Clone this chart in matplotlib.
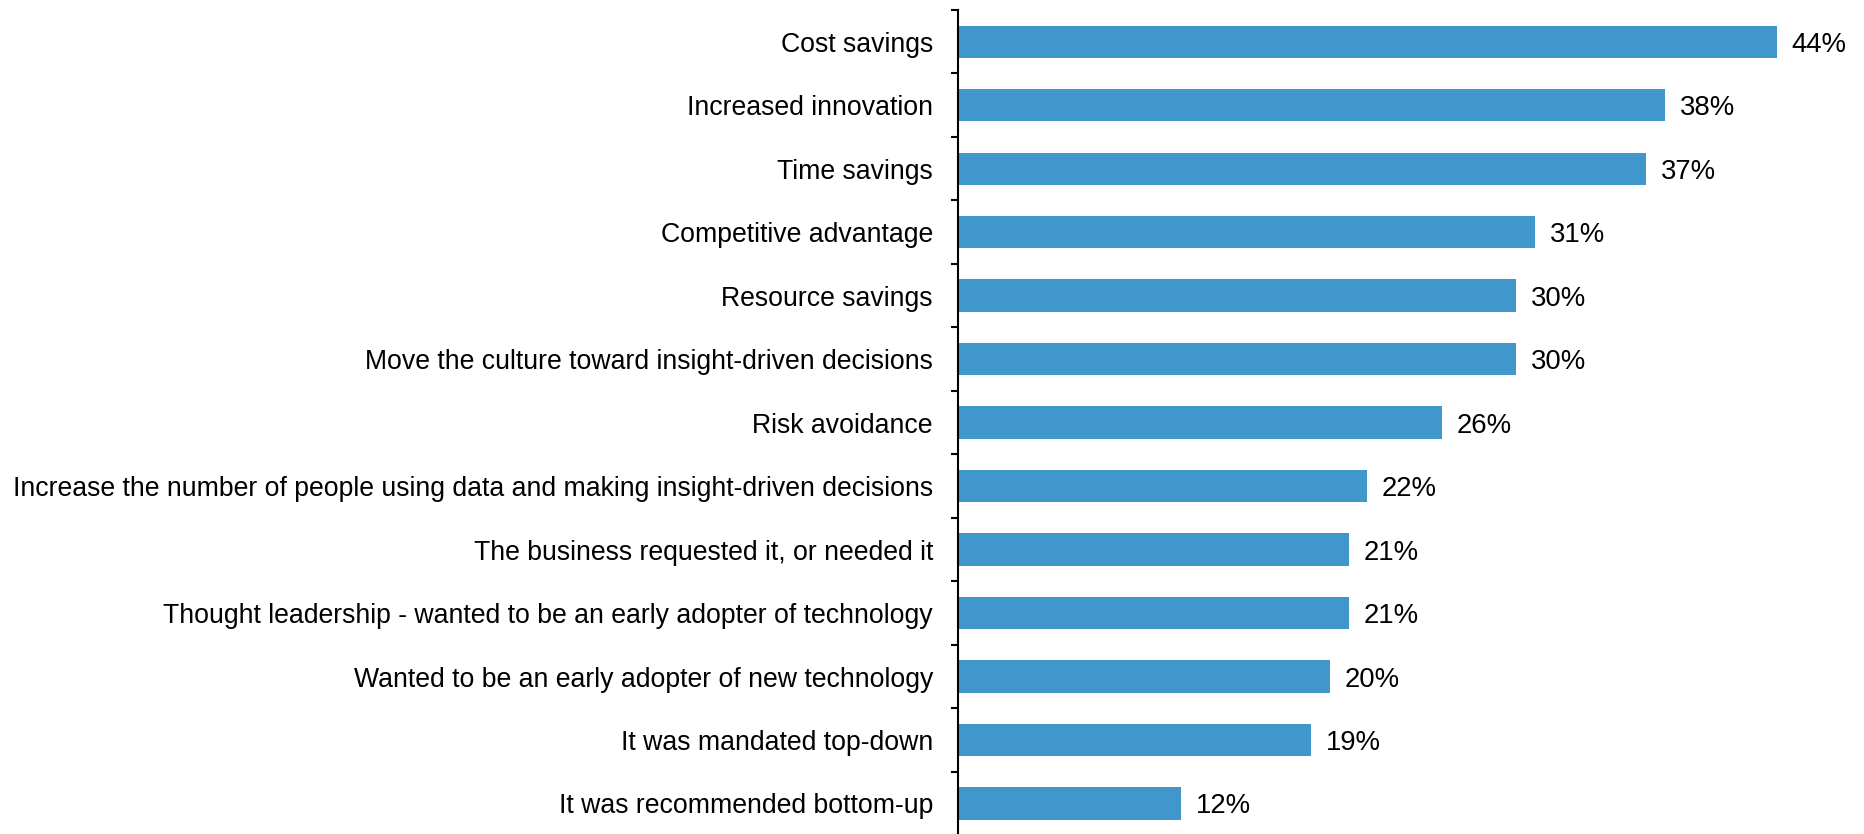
import matplotlib
matplotlib.use("Agg")
import matplotlib.pyplot as plt
import matplotlib.transforms as mtransforms
import numpy as np

categories = [
    "Cost savings",
    "Increased innovation",
    "Time savings",
    "Competitive advantage",
    "Resource savings",
    "Move the culture toward insight-driven decisions",
    "Risk avoidance",
    "Increase the number of people using data and making insight-driven decisions",
    "The business requested it, or needed it",
    "Thought leadership - wanted to be an early adopter of technology",
    "Wanted to be an early adopter of new technology",
    "It was mandated top-down",
    "It was recommended bottom-up",
]
values = [44, 38, 37, 31, 30, 30, 26, 22, 21, 21, 20, 19, 12]
value_labels = ["44%", "38%", "37%", "31%", "30%", "30%", "26%", "22%", "21%", "21%", "20%", "19%", "12%"]

plt.rcParams['font.family'] = ['Liberation Sans', 'DejaVu Sans']

fig = plt.figure(figsize=(18.64, 8.34), dpi=100)
ax = fig.add_axes([957.7 / 1864, 1 - 835.2 / 834, 1 - 957.7 / 1864, (835.2 - 10) / 834])

y = np.arange(len(categories))
ax.barh(y, values, height=0.51, color="#4197CB")
trans = mtransforms.offset_copy(ax.transData, fig=fig, x=0, y=-10, units="dots")
for yi, v, lab in zip(y, values, value_labels):
    ax.text(v + 0.8, yi, lab, va="baseline", ha="left", fontsize=19.8,
            color="black", transform=trans)

ax.set_ylim(len(categories) - 0.5, -0.5)
ax.set_xlim(0, 906.3 / 18.61)
ax.set_yticks(y)
ax.set_yticklabels(categories, fontsize=19.2)
ax.tick_params(axis="y", which="major", length=0, pad=17.8)
ax.set_yticks(np.arange(len(categories) + 1) - 0.5, minor=True)
ax.tick_params(axis="y", which="minor", length=5, width=1.5, direction="out")
ax.set_xticks([])
for s in ["top", "right", "bottom"]:
    ax.spines[s].set_visible(False)
ax.spines["left"].set_linewidth(1.5)
ax.spines["left"].set_color("black")

fig.savefig("out.png", dpi=100)
